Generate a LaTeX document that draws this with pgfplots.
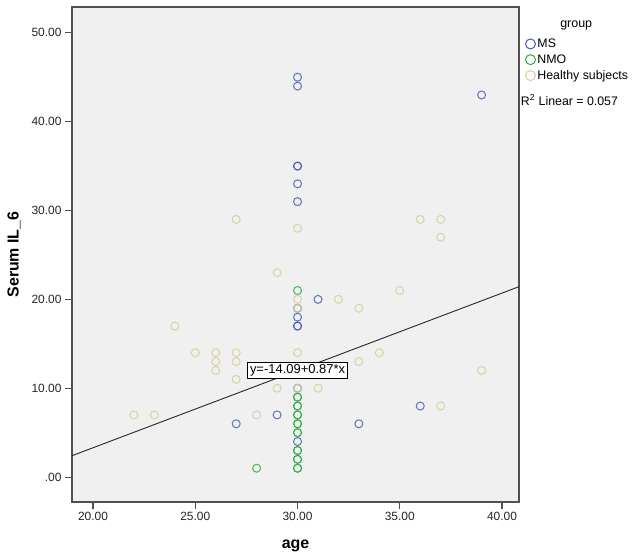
\documentclass[border=0pt]{standalone}
\usepackage{fontspec}
\setmainfont{Liberation Sans}
\usepackage{pgfplots}
\pgfplotsset{compat=1.18}
\definecolor{msblue}{RGB}{72,92,176}
\definecolor{nmogreen}{RGB}{46,170,70}
\definecolor{hbeige}{RGB}{212,206,152}
\definecolor{bgc}{RGB}{240,240,240}
\definecolor{axc}{RGB}{80,80,80}
\begin{document}
\begin{tikzpicture}
\path[use as bounding box] (-72bp,-57bp) rectangle (564bp,502bp);
\begin{axis}[
  at={(0,0)}, anchor=south west,
  scale only axis, width=447bp, height=495bp,
  xmin=18.97, xmax=40.83, ymin=-2.8, ymax=52.9,
  axis background/.style={fill=bgc},
  axis line style={axc, line width=1.2bp},
  xtick={20,25,30,35,40},
  xticklabels={20.00,25.00,30.00,35.00,40.00},
  ytick={0,10,20,30,40,50},
  yticklabels={.00,10.00,20.00,30.00,40.00,50.00},
  xtick pos=bottom, ytick pos=left,
  tick align=outside,
  major tick length=7bp,
  every tick/.style={axc, line width=1.2bp},
  tick label style={font=\fontsize{12}{14}\selectfont, text=black!85},
  xlabel={\textbf{age}},
  ylabel={\textbf{Serum IL\_6}},
  label style={font=\fontsize{16}{18}\selectfont},
  xlabel style={at={(axis description cs:0.5,0)}, anchor=center, yshift=-44bp},
  ylabel style={at={(axis description cs:0,0.5)}, anchor=center, yshift=58bp},
  legend style={draw=none, fill=none, at={(rel axis cs:1.014,0.94)}, anchor=north west,
    font=\fontsize{12.4}{14}\selectfont, row sep=1.6bp, inner sep=0pt,
    /tikz/every even column/.append style={column sep=0bp}},
  legend cell align=left,
  legend image post style={mark size=5bp, opacity=1},
  clip mode=individual,
]
\addplot[only marks, mark=o, mark size=4bp, draw=msblue, line width=1bp, opacity=0.85] coordinates {
(30,45) (30,44) (39,43) (30,35) (30,35) (30,33) (30,31) (31,20) (30,19) (30,18)
(30,17) (30,17) (29,7) (27,6) (33,6) (36,8) (30,4) (30,10)
};
\addlegendentry{MS}
\addplot[only marks, mark=o, mark size=4bp, draw=nmogreen, line width=1bp, opacity=0.85] coordinates {
(30,21) (30,9) (30,9) (30,8) (30,8) (30,7) (30,7) (30,6) (30,6) (30,5) (30,5)
(30,3) (30,3) (30,2) (30,2) (30,1) (30,1) (28,1)
};
\addlegendentry{NMO}
\addplot[only marks, mark=o, mark size=4bp, draw=hbeige, line width=1bp, opacity=0.85] coordinates {
(27,29) (36,29) (37,29) (30,28) (37,27) (29,23) (35,21) (30,20) (32,20) (30,19)
(33,19) (24,17) (25,14) (26,14) (27,14) (30,14) (34,14) (26,13) (27,13) (33,13)
(26,12) (39,12) (27,11) (29,10) (30,10) (31,10) (22,7) (23,7) (28,7) (37,8)
};
\addlegendentry{Healthy subjects}
\addplot[black!85, line width=0.9bp, forget plot] coordinates {(18.97,2.41) (40.83,21.43)};
\node[draw=black, fill=white, line width=0.7bp, inner sep=2.5bp, font=\fontsize{13}{15}\selectfont]
  at (axis cs:30.0,12.0) {y=-14.09+0.87*x};
\node[font=\fontsize{12.5}{14}\selectfont, anchor=center, yshift=-3bp] at (rel axis cs:1.128,0.968) {group};
\node[font=\fontsize{12.4}{14}\selectfont, anchor=west, inner sep=0pt] at (rel axis cs:1.004,0.812) {R\textsuperscript{2} Linear = 0.057};
\end{axis}
\end{tikzpicture}
\end{document}
